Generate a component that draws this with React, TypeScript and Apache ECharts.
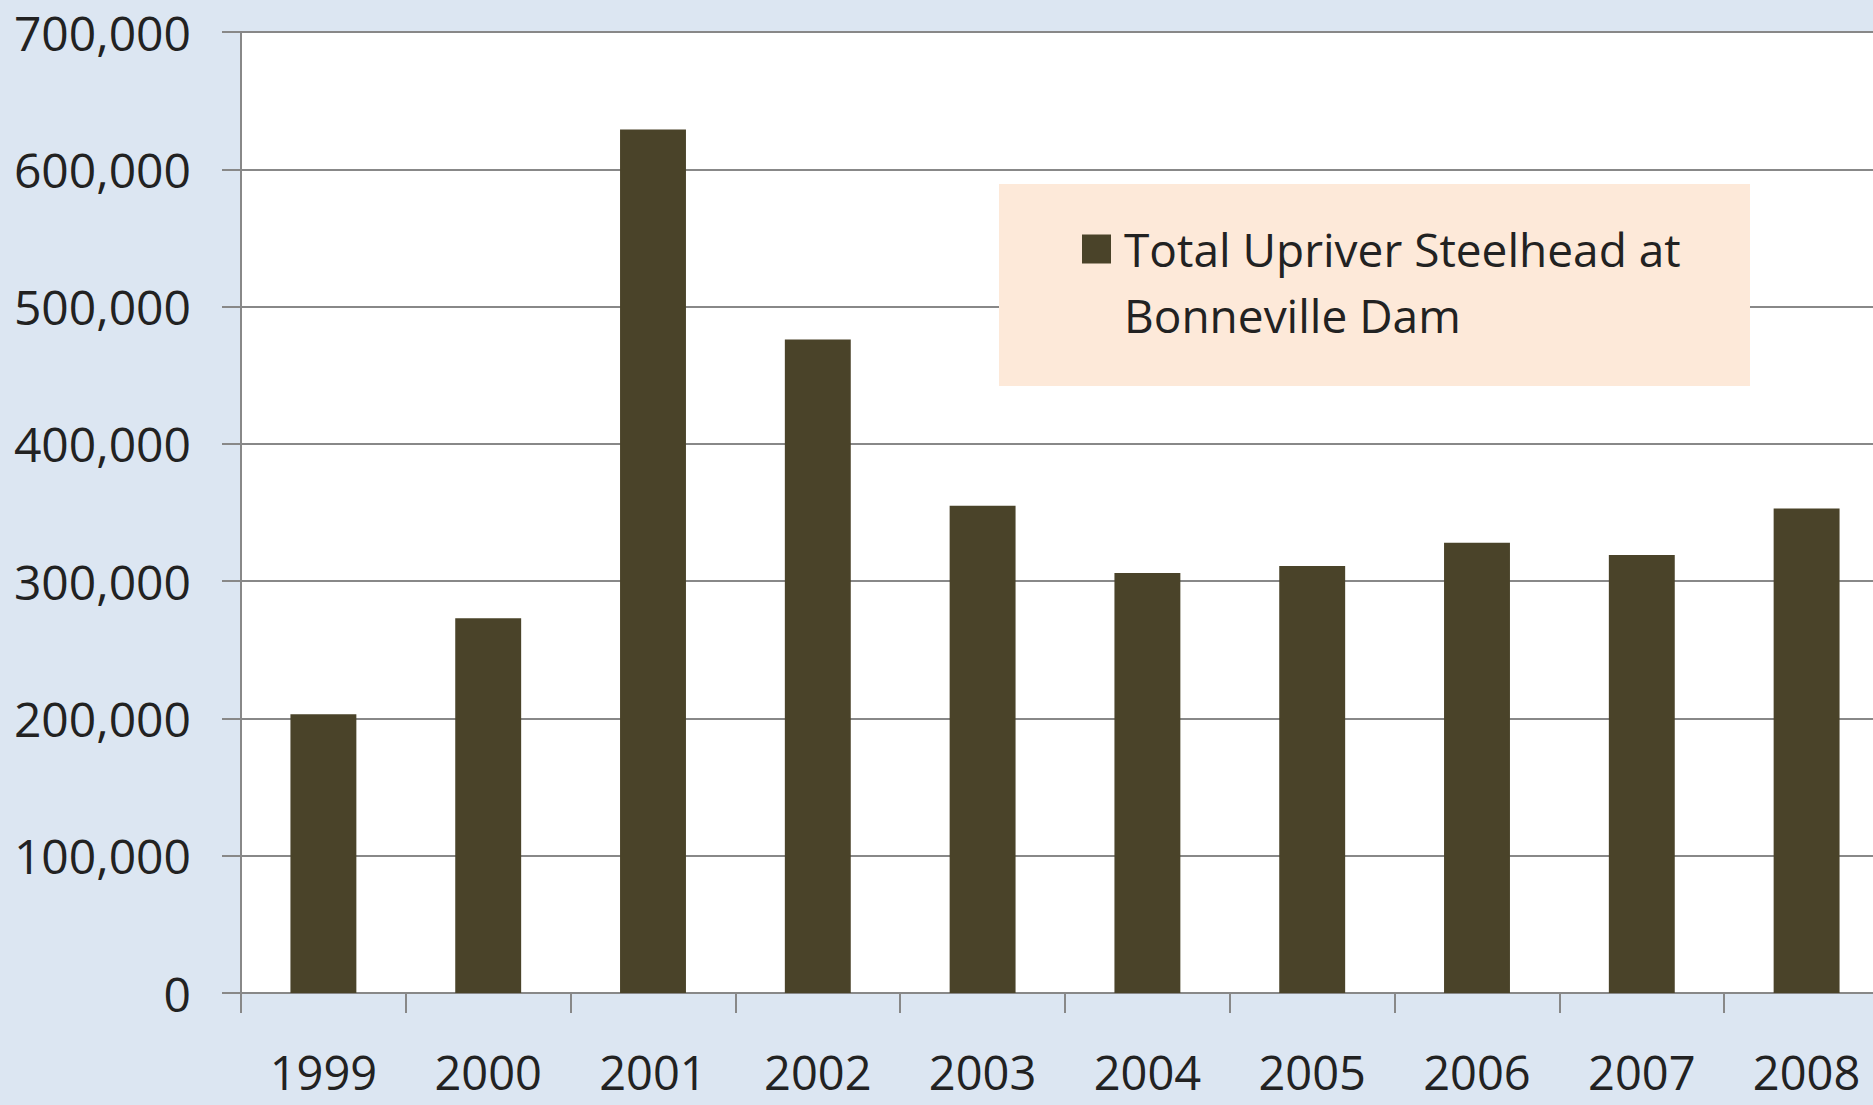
import React, { useEffect, useRef } from "react";
import * as echarts from "echarts";

const years = ["1999", "2000", "2001", "2002", "2003", "2004", "2005", "2006", "2007", "2008"];
const steelhead = [203000, 273000, 629000, 476000, 355000, 306000, 311000, 328000, 319000, 353000];
const seriesName = "Total Upriver Steelhead at Bonneville Dam";

export default function App() {
  const ref = useRef<HTMLDivElement>(null);
  useEffect(() => {
    if (!ref.current) return;
    const chart = echarts.init(ref.current, null, { renderer: "svg" });
    const font = "Open Sans";
    chart.setOption({
      animation: false,
      backgroundColor: "#DCE6F2",
      grid: {
        left: 241,
        top: 32,
        width: 1648,
        height: 961,
        show: true,
        backgroundColor: "#FFFFFF",
        borderWidth: 0,
        containLabel: false,
        outerBoundsMode: "none",
      },
      graphic: [
        {
          type: "rect",
          z: 3,
          shape: { x: 999, y: 184, width: 751, height: 202 },
          style: { fill: "#FDE9D9" },
        },
      ],
      legend: {
        left: 1082,
        top: 150,
        padding: 0,
        icon: "rect",
        itemWidth: 29,
        itemHeight: 29,
        formatter: () => " \nTotal Upriver Steelhead at\nBonneville Dam",
        textStyle: {
          fontFamily: font,
          fontSize: 46,
          lineHeight: 66,
          color: "#222222",
          padding: [0, 0, 0, 8],
        },
      },
      xAxis: {
        type: "category",
        data: years,
        axisLine: { lineStyle: { color: "#888888", width: 2 } },
        axisTick: {
          show: true,
          alignWithLabel: false,
          interval: 0,
          length: 20,
          lineStyle: { color: "#888888", width: 2 },
        },
        axisLabel: {
          margin: 60,
          fontFamily: font,
          fontSize: 47,
          lineHeight: 38,
          color: "#222222",
        },
      },
      yAxis: {
        type: "value",
        min: 0,
        max: 700000,
        interval: 100000,
        axisLine: { show: true, lineStyle: { color: "#888888", width: 2 } },
        axisTick: { show: true, length: 19, lineStyle: { color: "#888888", width: 2 } },
        splitLine: { lineStyle: { color: "#888888", width: 2 } },
        axisLabel: {
          margin: 50,
          fontFamily: font,
          fontSize: 48,
          color: "#222222",
          formatter: (v: number) => v.toLocaleString("en-US"),
        },
      },
      series: [
        {
          name: seriesName,
          type: "bar",
          data: steelhead,
          barWidth: "40%",
          itemStyle: { color: "#4A4329" },
        },
      ],
    });
    return () => chart.dispose();
  }, []);
  return (
    <div
      ref={ref}
      style={{ position: "fixed", left: 0, top: 0, width: 1873, height: 1105 }}
    />
  );
}
